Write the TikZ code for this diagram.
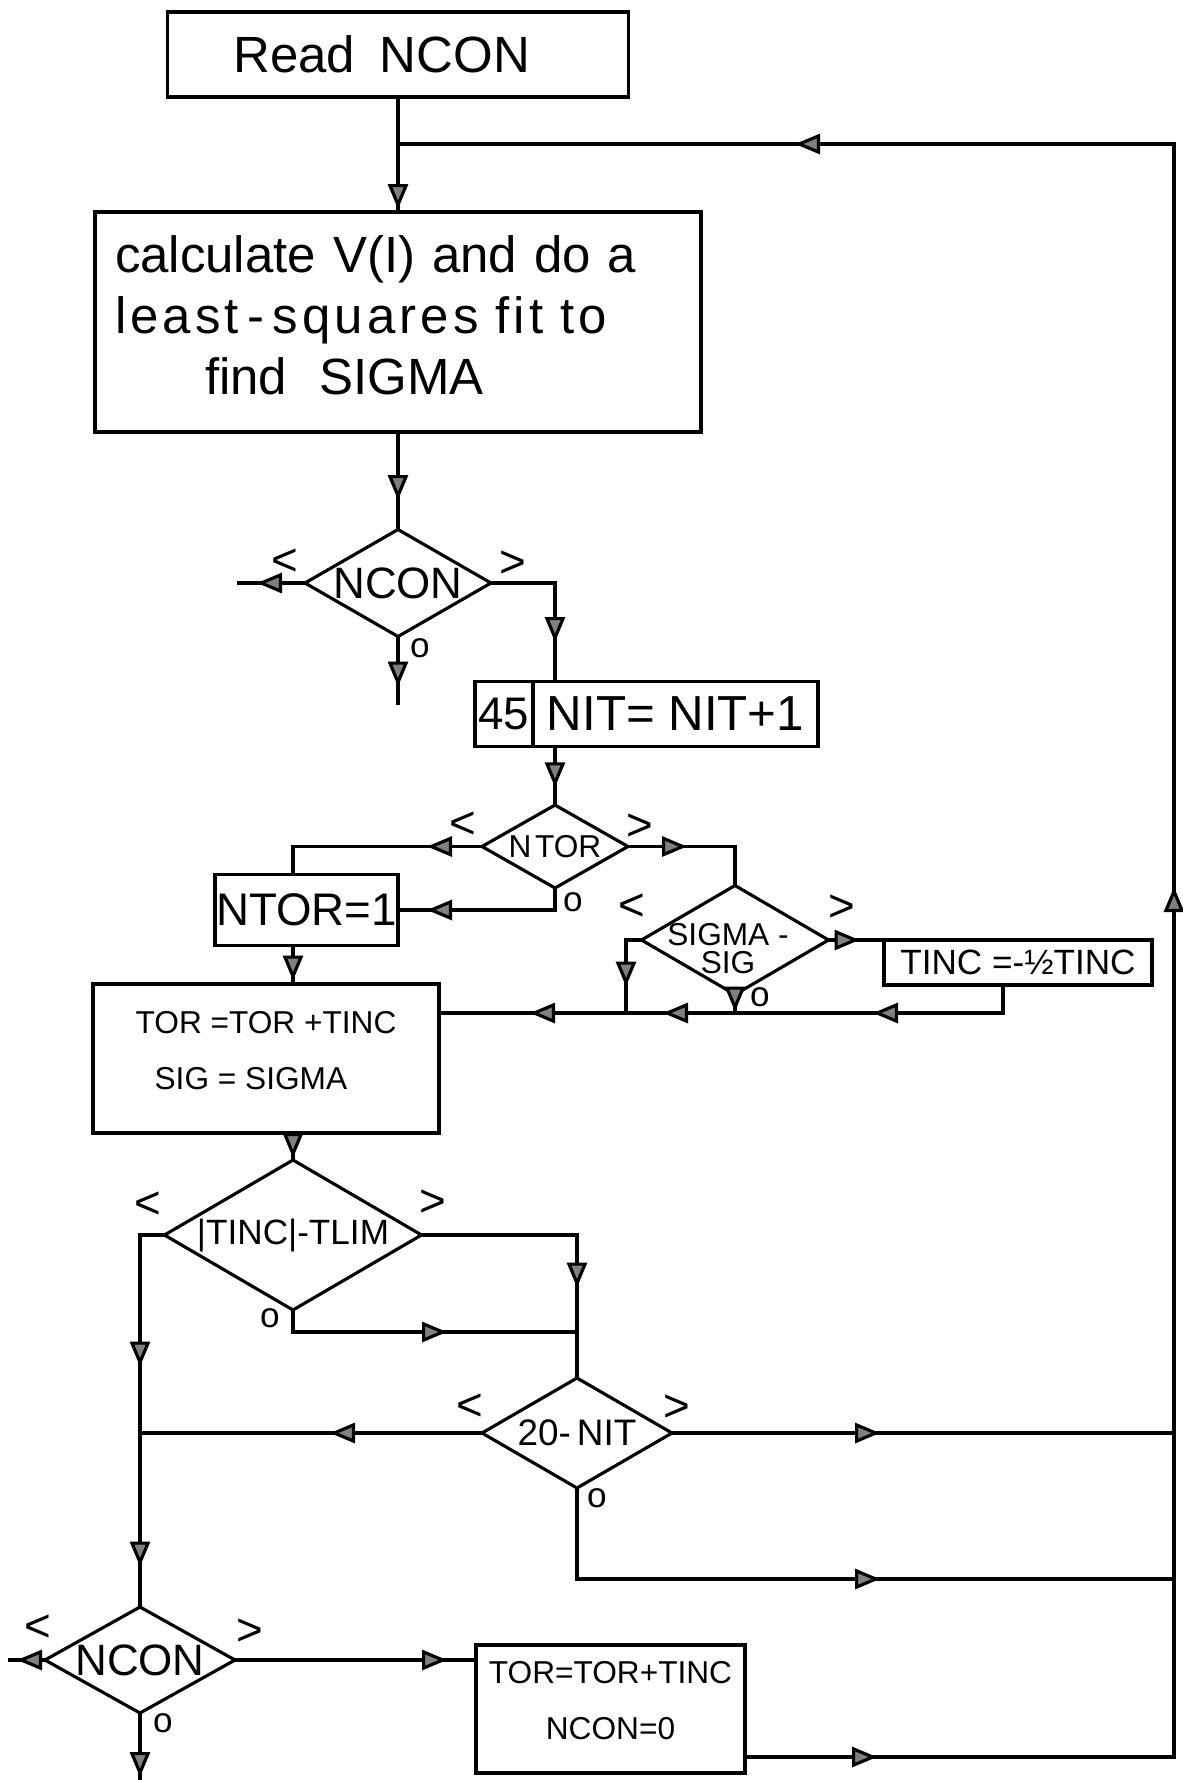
\documentclass[tikz,border=0pt]{standalone}
\usepackage{fontspec}
\setmainfont{Liberation Sans}
\usetikzlibrary{positioning,arrows.meta,shapes.geometric,decorations.markings}

\begin{document}
\begin{tikzpicture}[line width=0.9pt,
          flowtip/.tip={Triangle[length=2.5mm, width=2mm, fill=gray]},
          pbox/.style={draw, inner sep=0pt, outer sep=0pt},
          dec/.style={draw, diamond, shape aspect=1.74, inner sep=-5pt, outer sep=0pt},
          lbl/.style={inner sep=0pt, font=\fontsize{13}{13}\selectfont},
          zlbl/.style={inner sep=0pt, font=\fontsize{10}{10}\selectfont},
          arr/.style={postaction={decorate, decoration={markings, mark=at position #1 with {\arrow{flowtip}}}}}]
        \useasboundingbox (0,0) rectangle (11.83,-17.80);
        % boxes and tests
        \node[pbox, minimum width=4.61cm, minimum height=0.85cm, text width=3.29cm, inner xsep=0.66cm, align=left, font=\fontsize{14.5}{17}\selectfont] (rd) at (3.98,-0.545) {Read\hspace{0.15em} NCON};
        \node[pbox, minimum width=6.06cm, minimum height=2.20cm, text width=5.66cm, inner xsep=0.2cm, align=left, text depth=1.36cm, font=\fontsize{14.5}{17.3}\selectfont] (calc) at (3.98,-3.22) {calculate V(I) and do a\\{\addfontfeature{LetterSpace=8}least\,-\,squares fit to}\\\hspace*{0.9cm}find\hspace{0.3em} SIGMA};
        \node[dec, minimum width=1.86cm, minimum height=1.07cm, font=\fontsize{12.5}{15}\selectfont] (ncA) at (3.98,-5.83) {NCON};
        \node[pbox, minimum width=0.58cm, minimum height=0.645cm, font=\fontsize{13}{15}\selectfont] (n45) at (5.04,-7.14) {45};
        \node[pbox, minimum width=2.85cm, minimum height=0.645cm, right=0pt of n45, font=\fontsize{14}{15}\selectfont] (nit) {NIT= NIT+1};
        \node[dec, minimum width=1.46cm, minimum height=0.83cm, font=\fontsize{9}{11}\selectfont] (nt) at (5.55,-8.465) {N\kern1pt TOR};
        \node[pbox, minimum width=1.83cm, minimum height=0.71cm, font=\fontsize{13}{15}\selectfont] (nt1) at (3.065,-9.10) {NTOR=1};
        \node[dec, minimum width=1.87cm, minimum height=1.09cm] (sg) at (7.35,-9.40) {};
        \node[inner sep=0pt, align=center, font=\fontsize{9}{8}\selectfont] (sgt) at (7.28,-9.49) {SIGMA -\\SIG};
        \node[pbox, minimum width=2.68cm, minimum height=0.45cm, anchor=north west, font=\fontsize{10}{12}\selectfont] (tinc) at (8.84,-9.40) {TINC =-½TINC};
        \node[pbox, minimum width=3.46cm, minimum height=1.49cm, align=left, text depth=0.17cm, font=\fontsize{9}{15.9}\selectfont] (tor) at (2.66,-10.585) {TOR =TOR +TINC\\\hspace*{0.19cm}SIG = SIGMA};
        \node[dec, minimum width=2.57cm, minimum height=1.50cm, font=\fontsize{10}{12}\selectfont] (tl) at (2.93,-12.35) {|TINC|-TLIM};
        \node[dec, minimum width=1.90cm, minimum height=1.10cm, font=\fontsize{10.5}{12}\selectfont] (nt20) at (5.77,-14.33) {20-\,NIT};
        \node[dec, minimum width=1.90cm, minimum height=1.06cm, font=\fontsize{12.5}{15}\selectfont] (ncB) at (1.40,-16.60) {NCON};
        \node[pbox, minimum width=2.69cm, minimum height=1.28cm, align=center, text depth=0.17cm, font=\fontsize{9}{15.9}\selectfont] (tc) at (6.105,-17.09) {TOR=TOR+TINC\\NCON=0};
        % free ends and corners
        \coordinate (ncAw) at (2.37,-5.83);
        \coordinate (ncAs) at (3.98,-7.05);
        \coordinate (hl) at (6.26,-10.13);
        \coordinate (hr) at (10.03,-10.13);
        \coordinate (jT) at (5.77,-13.32);
        \coordinate (rt) at (11.74,-1.44);
        \coordinate (rb) at (11.74,-17.57);
        \coordinate (jB) at (11.74,-15.79);
        \coordinate (ncBw) at (0.08,-16.60);
        \coordinate (ncBs) at (1.40,-17.80);
        % connectors
        \draw[arr=1.12cm] (rd.south) -- (calc.north);
        \draw[arr=0.68cm] (calc.south) -- (ncA.north);
        \draw[arr=0.48cm] (ncA.west) -- (ncAw);
        \draw[arr=0.50cm] (ncA.south) -- (ncAs);
        \draw[arr=1.23cm] (ncA.east) -| (nt.north |- nit.north);
        \draw[arr=0.41cm] (nt.north |- nit.south) -- (nt.north);
        \draw[arr=0.55cm] (nt.west) -| (tl.north |- nt1.north);
        \draw[arr=1.50cm] (nt.south) |- (nt1.east);
        \draw[arr=0.59cm] (nt.east) -| (sg.north);
        \draw[arr=0.35cm] (tl.north |- nt1.south) -- (tl.north |- tor.north);
        \draw[arr=0.62cm] (sg.west) -| (hl);
        \draw[arr=0.31cm] (sg.east) -- (tinc.north west);
        \draw[arr=0.17cm] (sg.south) -- (sg.south |- hl);
        \draw[arr=1.58cm, arr=3.68cm, arr=5.01cm] (tinc.south -| hr) -- (hr) -- (tor.east |- hr);
        \draw[arr=0.25cm] (tl.north |- tor.south) -- (tl.north);
        \draw[arr=1.56cm, arr=3.56cm] (tl.west) -| (ncB.north);
        \draw[arr=2.08cm] (tl.east) -| (nt20.north);
        \draw[arr=1.76cm] (tl.south) |- (jT);
        \draw[arr=1.52cm] (nt20.west) -- (nt20.west -| ncB.north);
        \draw[arr=2.08cm] (nt20.east) -- (nt20.east -| rt);
        \draw[arr=3.94cm] (nt20.south) |- (jB);
        \draw[arr=2.12cm] (ncB.east) -- (ncB.east -| tc.west);
        \draw[arr=0.28cm] (ncB.west) -- (ncBw);
        \draw[arr=0.64cm] (ncB.south) -- (ncBs);
        \draw[arr=1.32cm, arr=12.99cm, arr=24.21cm] (tc.east |- rb) -- (rb) -- (rt) -- (rd.south |- rt);
        % branch signs
        \foreach \n/\x/\y/\t in {ltA/2.85/-5.62/<, gtA/5.13/-5.64/>, ltB/4.63/-8.25/<, gtB/6.40/-8.27/>,
            ltC/6.32/-9.07/<, gtC/8.42/-9.08/>, ltD/1.48/-12.05/<, gtD/4.33/-12.03/>,
            ltE/4.70/-14.07/<, gtE/6.77/-14.08/>, ltF/0.38/-16.28/<, gtF/2.50/-16.32/>}
          { \node[lbl] (\n) at (\x,\y) {\t}; }
        \foreach \n/\x/\y in {zA/4.20/-6.48, zB/5.73/-9.02, zC/7.60/-9.97, zD/2.70/-13.18, zE/5.97/-14.98, zF/1.63/-17.23}
          { \node[zlbl] (\n) at (\x,\y) {o}; }
      \end{tikzpicture}
\end{document}
